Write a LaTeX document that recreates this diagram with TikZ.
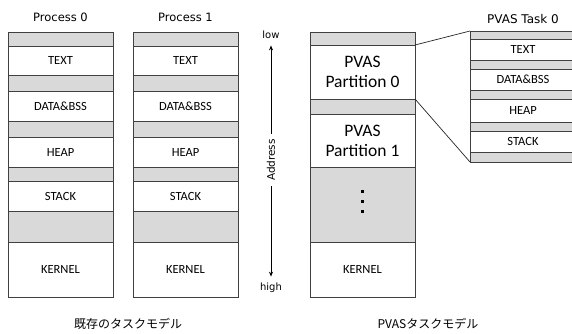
\documentclass[tikz,border=0pt]{standalone}
\usepackage{fontspec}
\setmainfont{Carlito}
\newfontfamily\labelfont{DejaVu Sans}
\newfontfamily\jpfont{Noto Sans CJK JP}
\usetikzlibrary{positioning,arrows.meta}

\definecolor{bandgray}{HTML}{D9D9D9}
\definecolor{edgegray}{HTML}{404040}

\tikzset{
  seg/.style={draw=edgegray, line width=0.9pt, inner sep=0pt, outer sep=0pt,
    anchor=north west, minimum width=105pt, font=\fontsize{12.5}{14}\selectfont},
  title/.style={font=\labelfont\fontsize{11.5}{13}\selectfont},
  link/.style={draw=black!85, line width=0.7pt},
}

\begin{document}
\begin{tikzpicture}[x=1pt,y=-1pt]
\useasboundingbox (0,0) rectangle (572,334);

% existing model: two process columns
\foreach \c/\x in {0/8, 1/133} {
  \node[title] (proc\c) at (\x+52.5,17) {Process \c};
  \foreach \i/\t/\h/\f/\l in {1/32/14/bandgray/, 2/46/29/white/TEXT,
      3/75/16/bandgray/, 4/91/30/white/DATA\&BSS, 5/121/16/bandgray/,
      6/137/30/white/HEAP, 7/167/14/bandgray/, 8/181/30/white/STACK,
      9/211/31/bandgray/, 10/242/55/white/KERNEL} {
    \node[seg, fill=\f, minimum height=\h pt] (p\c s\i) at (\x,\t) {\l};
  }
}
\node[font=\jpfont\fontsize{12}{14}\selectfont] (capold) at (128,324) {既存のタスクモデル};

% address axis
\node[title, font=\labelfont\fontsize{10}{12}\selectfont] (low) at (271,35) {low};
\node[title, font=\labelfont\fontsize{10}{12}\selectfont] (high) at (271,288) {high};
\node[title, font=\labelfont\fontsize{10.5}{12}\selectfont, rotate=90, inner xsep=5pt] (addr) at (271,160) {Address};
\draw[line width=0.9pt, -{Stealth[length=5pt,width=4pt]}] (addr.east) -- ([yshift=-3pt]low.south);
\draw[line width=0.9pt, -{Stealth[length=5pt,width=4pt]}] (addr.west) -- ([yshift=3pt]high.north);

% PVAS model
\node[seg, fill=bandgray, minimum height=13pt] (pv1) at (310,32) {};
\node[seg, fill=white, minimum height=54pt, align=center,
  font=\fontsize{17.5}{20}\selectfont] (pv2) at (310,45) {PVAS\\Partition 0};
\node[seg, fill=bandgray, minimum height=15pt] (pv3) at (310,99) {};
\node[seg, fill=white, minimum height=53pt, align=center,
  font=\fontsize{17.5}{20}\selectfont] (pv4) at (310,114) {PVAS\\Partition 1};
\node[seg, fill=bandgray, minimum height=75pt] (pv5) at (310,167) {};
\node[seg, fill=white, minimum height=55pt] (pv6) at (310,242) {KERNEL};
\foreach \d in {191,201,211}
  \fill (360.5,\d-1.5) rectangle (363.5,\d+1.5);
\node[font=\jpfont\fontsize{12}{14}\selectfont] (capnew) at (428,324) {PVASタスクモデル};

% PVAS task 0 (zoomed partition)
\node[title, font=\labelfont\fontsize{12}{14}\selectfont] (task) at (523,19) {PVAS Task 0};
\foreach \i/\t/\h/\f/\l in {1/31/8/bandgray/, 2/39/21/white/TEXT,
    3/60/9/bandgray/, 4/69/21/white/DATA\&BSS, 5/90/9/bandgray/,
    6/99/23/white/HEAP, 7/122/9/bandgray/, 8/131/21/white/STACK,
    9/152/10/bandgray/} {
  \node[seg, fill=\f, minimum width=106pt, minimum height=\h pt] (tk\i) at (470,\t) {\l};
}
\draw[link] (pv2.north east) -- (tk1.north west);
\draw[link] (pv2.south east) -- (tk9.south west);
\end{tikzpicture}
\end{document}
